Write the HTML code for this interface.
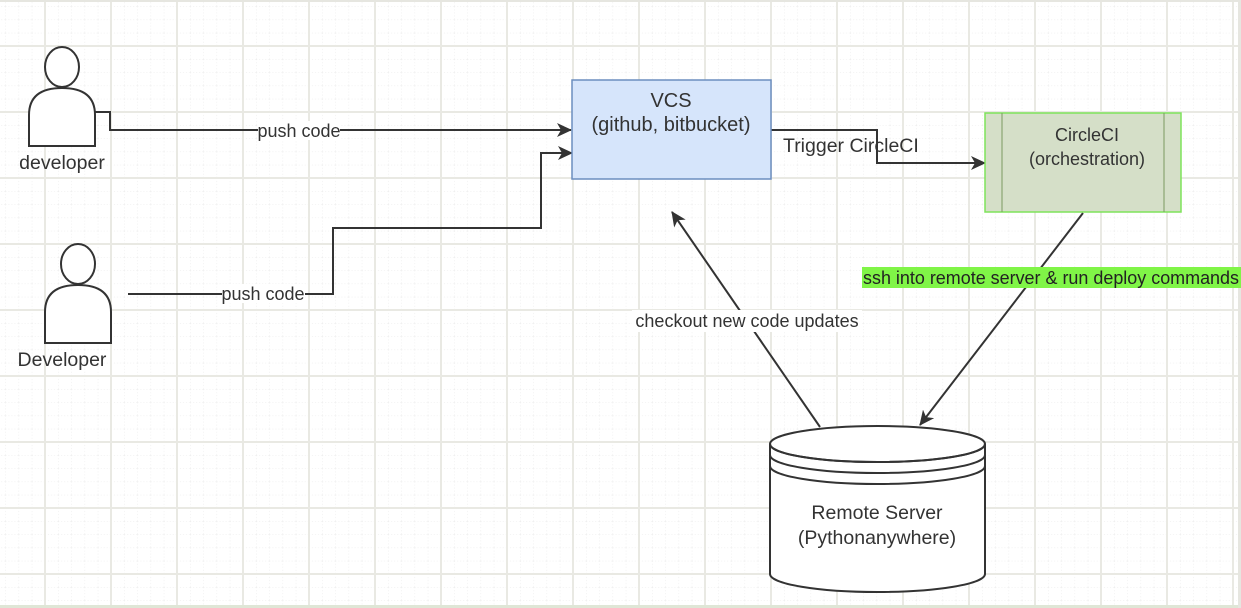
<!DOCTYPE html>
<html><head><meta charset="utf-8"><style>
html,body{margin:0;padding:0;background:#fff;}
svg{display:block;font-family:"Liberation Sans",sans-serif;}
</style></head><body>
<svg width="1241" height="608" viewBox="0 0 1241 608" xmlns="http://www.w3.org/2000/svg">
<defs>
<pattern id="minor" x="45" y="46" width="13.2" height="13.2" patternUnits="userSpaceOnUse">
<path d="M0 0H13.2M0 0V13.2" stroke="#e6e6e6" stroke-width="1" stroke-dasharray="1 2" fill="none"/>
</pattern>
<pattern id="major" x="44" y="45" width="66" height="66" patternUnits="userSpaceOnUse">
<path d="M1 0V66M0 1H66" stroke="#e9e9e3" stroke-width="2" fill="none"/>
</pattern>
<marker id="ar" markerWidth="16" markerHeight="14" refX="14" refY="7" orient="auto" markerUnits="userSpaceOnUse">
<path d="M0 0L15 7L0 14L4 7Z" fill="#333"/>
</marker>
</defs>
<rect width="1241" height="608" fill="#fff"/>
<rect width="1241" height="608" fill="url(#minor)"/>
<rect width="1241" height="608" fill="url(#major)"/>
<rect x="0" y="0" width="1241" height="2" fill="#e6e6e0"/>
<rect x="0" y="605" width="1241" height="3" fill="#dfe6d6"/>
<rect x="1238" y="0" width="3" height="608" fill="#e6e6e0"/>

<g fill="#fff" stroke="#333" stroke-width="2">
<ellipse cx="62" cy="67" rx="17" ry="20"/>
<path d="M29 146V115Q29 88 62 88Q95 88 95 115V146Z"/>
<ellipse cx="78" cy="264" rx="17" ry="20"/>
<path d="M45 343V312Q45 285 78 285Q111 285 111 312V343Z"/>
</g>
<text x="62" y="169" font-size="19.5" text-anchor="middle" fill="#333">developer</text>
<text x="62" y="366" font-size="19.5" text-anchor="middle" fill="#333">Developer</text>

<g fill="none" stroke="#333" stroke-width="2">
<path d="M95 112H110V130H571" marker-end="url(#ar)"/>
<path d="M128 294H333V228H541V153H572" marker-end="url(#ar)"/>
<path d="M771 130H877V163H985" marker-end="url(#ar)"/>
<path d="M1083 213L920 425" marker-end="url(#ar)"/>
<path d="M820 427L672 212" marker-end="url(#ar)"/>
</g>
<rect x="258" y="121" width="82" height="19" fill="#fff"/>
<text x="299" y="137" font-size="18" text-anchor="middle" fill="#333">push code</text>
<rect x="222" y="284" width="83" height="19" fill="#fff"/>
<text x="263" y="300" font-size="18" text-anchor="middle" fill="#333">push code</text>
<text x="783" y="152" font-size="19.5" fill="#333">Trigger CircleCI</text>
<rect x="632" y="310" width="230" height="22" fill="#fff"/>
<text x="747" y="327" font-size="18" text-anchor="middle" fill="#333">checkout new code updates</text>
<rect x="862" y="267" width="379" height="21" fill="#80f547"/>
<text x="863" y="284" font-size="18" fill="#222" textLength="376" lengthAdjust="spacingAndGlyphs">ssh into remote server &amp; run deploy commands</text>

<rect x="572" y="80" width="199" height="99" fill="#d6e5fb" stroke="#6c8ebf" stroke-width="1.5"/>
<text x="671" y="107" font-size="20" text-anchor="middle" fill="#333">VCS</text>
<text x="671" y="131" font-size="20" text-anchor="middle" fill="#333">(github, bitbucket)</text>

<rect x="985" y="113" width="196" height="99" fill="#d5dfc8" stroke="#7ee35a" stroke-width="1.5"/>
<path d="M1002 113V212M1164 113V212" stroke="#7a9a60" stroke-width="1"/>
<text x="1087" y="141" font-size="18" text-anchor="middle" fill="#333">CircleCI</text>
<text x="1087" y="165" font-size="18" text-anchor="middle" fill="#333">(orchestration)</text>

<g fill="#fff" stroke="#333" stroke-width="2">
<path d="M770 444V574A107.5 18 0 0 0 985 574V444"/>
<ellipse cx="877.5" cy="444" rx="107.5" ry="18"/>
<path d="M770 444A107.5 18 0 0 0 985 444" fill="none"/>
<path d="M770 455A107.5 18 0 0 0 985 455" fill="none"/>
<path d="M770 466A107.5 18 0 0 0 985 466" fill="none"/>
</g>
<text x="877" y="519" font-size="19.5" text-anchor="middle" fill="#333">Remote Server</text>
<text x="877" y="544" font-size="19.5" text-anchor="middle" fill="#333">(Pythonanywhere)</text>
</svg>
</body></html>
